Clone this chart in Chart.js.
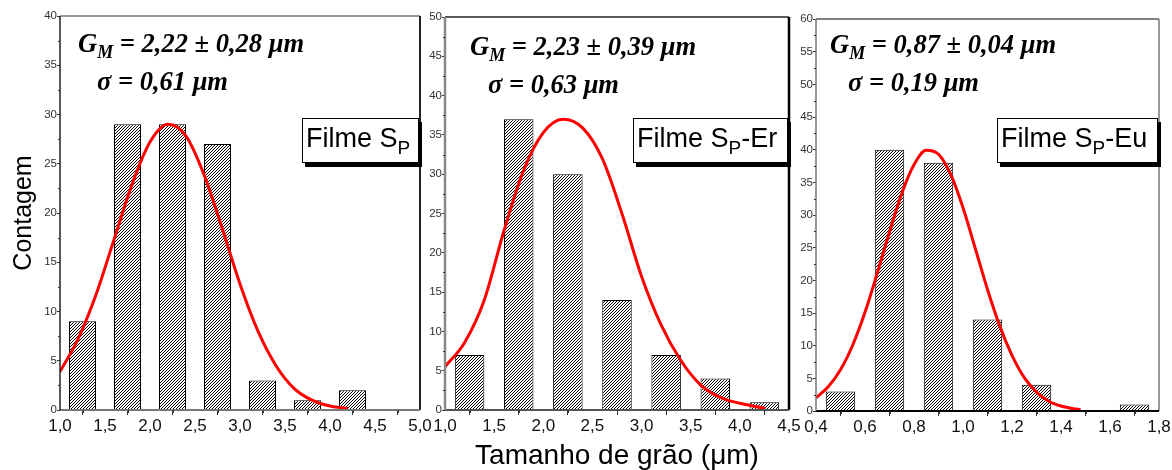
<!DOCTYPE html>
<html><head><meta charset="utf-8">
<script src="https://cdn.jsdelivr.net/npm/chart.js@4.4.1/dist/chart.umd.min.js"></script>
<style>
html,body{margin:0;padding:0;background:#fff;}
#wrap{position:relative;width:1172px;height:470px;overflow:hidden;background:#fff;}
#wrap canvas{position:absolute;left:0;top:0;}
.ann{position:absolute;font:italic bold 26.5px "Liberation Serif","Times New Roman",serif;line-height:28px;white-space:nowrap;color:#000;}
.ann .s{font-size:18px;position:relative;top:6px;}
.leg{position:absolute;box-sizing:border-box;border:1px solid #000;background:#fff;box-shadow:3px 4px 0 #000;font:27px "Liberation Sans",Arial,sans-serif;line-height:38px;padding-left:3px;white-space:nowrap;height:45px;color:#000;}
.leg .s{font-size:19px;position:relative;top:7px;}
</style></head>
<body>
<div id="wrap">
<canvas id="c1" width="1172" height="470"></canvas>
<canvas id="c2" width="1172" height="470"></canvas>
<canvas id="c3" width="1172" height="470"></canvas>
<div class="ann" style="left:78px;top:29px">G<span class="s">M</span> = 2,22 ± 0,28 μm</div>
<div class="ann" style="left:97px;top:67px">σ = 0,61 μm</div>
<div class="ann" style="left:470px;top:32px">G<span class="s">M</span> = 2,23 ± 0,39 μm</div>
<div class="ann" style="left:488px;top:70px">σ = 0,63 μm</div>
<div class="ann" style="left:830px;top:30px">G<span class="s">M</span> = 0,87 ± 0,04 μm</div>
<div class="ann" style="left:848px;top:68px">σ = 0,19 μm</div>
<div class="leg" style="left:302px;top:118px;width:117px">Filme S<span class="s">P</span></div>
<div class="leg" style="left:633px;top:118px;width:155px">Filme S<span class="s">P</span>-Er</div>
<div class="leg" style="left:997px;top:118px;width:161px">Filme S<span class="s">P</span>-Eu</div>
</div>
<script>
// ---- Data ----
const spBinCenters   = [1.25, 1.75, 2.25, 2.75, 3.25, 3.75, 4.25];
const spCounts       = [9, 29, 29, 27, 3, 1, 2];
const spFitX         = [1.0, 1.2, 1.4, 1.6, 1.8, 2.0, 2.2, 2.4, 2.6, 2.8, 3.0, 3.2, 3.4, 3.6, 3.8, 4.0, 4.2];
const spFitY         = [3.9, 7.2, 11.7, 17.3, 22.9, 27.2, 29.0, 27.8, 23.9, 18.5, 12.8, 8.0, 4.5, 2.2, 1.0, 0.4, 0.15];

const erBinCenters   = [1.25, 1.75, 2.25, 2.75, 3.25, 3.75, 4.25];
const erCounts       = [7, 37, 30, 14, 7, 4, 1];
const erFitX         = [1.0, 1.2, 1.4, 1.6, 1.8, 2.0, 2.2, 2.4, 2.6, 2.8, 3.0, 3.2, 3.4, 3.6, 3.8, 4.0, 4.26];
const erFitY         = [5.5, 8.6, 14.0, 22.8, 30.5, 35.3, 37.0, 35.9, 32.0, 25.0, 17.0, 10.8, 6.3, 3.2, 1.6, 0.85, 0.2];

const euBinCenters   = [0.5, 0.7, 0.9, 1.1, 1.3, 1.5, 1.7];
const euCounts       = [3, 40, 38, 14, 4, 0, 1];
const euFitX         = [0.40, 0.45, 0.50, 0.55, 0.60, 0.65, 0.70, 0.75, 0.80, 0.85, 0.90, 0.95, 1.00, 1.05, 1.10, 1.15, 1.20, 1.25, 1.30, 1.35, 1.40, 1.45, 1.48];
const euFitY         = [2.0, 3.7, 6.3, 10.1, 15.1, 21.1, 27.4, 33.3, 37.7, 39.9, 39.3, 36.2, 31.1, 24.9, 18.6, 13.0, 8.5, 5.1, 2.9, 1.5, 0.76, 0.35, 0.21];

const xRanges   = [[1.0, 5.0, 0.5], [1.0, 4.5, 0.5], [0.4, 1.8, 0.2]];
const yRanges   = [[0, 40, 5], [0, 50, 5], [0, 60, 5]];
const yAxisTitle = 'Contagem';
const xAxisTitle = 'Tamanho de grão (μm)';

// ---- helpers ----
function hatchPattern(ctx){
  const n = 3;
  const c = document.createElement('canvas'); c.width = n; c.height = n;
  const g = c.getContext('2d');
  g.fillStyle = '#fff'; g.fillRect(0,0,n,n);
  g.strokeStyle = '#000'; g.lineWidth = 1;
  g.beginPath();
  g.moveTo(0,n); g.lineTo(n,0);
  g.moveTo(-n,n); g.lineTo(n,-n);
  g.moveTo(0,2*n); g.lineTo(2*n,0);
  g.stroke();
  return ctx.createPattern(c, 'repeat');
}
const fmt = v => Number(v).toFixed(1).replace('.', ',');

const framePlugin = {
  id: 'frame',
  afterDraw(chart, args, o){
    const a = chart.chartArea, ctx = chart.ctx;
    ctx.save();
    const side = (c, w, x1, y1, x2, y2) => { ctx.strokeStyle = c; ctx.lineWidth = w; ctx.beginPath(); ctx.moveTo(x1,y1); ctx.lineTo(x2,y2); ctx.stroke(); };
    side(o.top[0], o.top[1], a.left, a.top, a.right, a.top);
    side(o.right[0], o.right[1], a.right, a.top, a.right, a.bottom);
    side(o.bottom[0], o.bottom[1], a.left, a.bottom, a.right, a.bottom);
    side(o.left[0], o.left[1], a.left, a.top, a.left, a.bottom);
    ctx.restore();
  }
};
const minorPlugin = {
  id: 'minorTicks',
  afterDraw(chart){
    const ctx = chart.ctx, xs = chart.scales.x, ys = chart.scales.y;
    ctx.save(); ctx.strokeStyle = '#333'; ctx.lineWidth = 1;
    const yt = ys.ticks;
    for (let i = 0; i < yt.length - 1; i++){
      const p = Math.round(ys.getPixelForValue((yt[i].value + yt[i+1].value)/2)) + 0.5;
      ctx.beginPath(); ctx.moveTo(ys.right - 2, p); ctx.lineTo(ys.right, p); ctx.stroke();
    }
    const xt = xs.ticks;
    for (let i = 0; i < xt.length - 1; i++){
      const p = Math.round(xs.getPixelForValue((xt[i].value + xt[i+1].value)/2)) + 0.5;
      ctx.beginPath(); ctx.moveTo(p, xs.top); ctx.lineTo(p, xs.top + 3); ctx.stroke();
    }
    ctx.restore();
  }
};

function makeChart(id, centers, counts, fitX, fitY, xr, yr, area, frame, showYTitle, showXTitle){
  const ctx = document.getElementById(id).getContext('2d');
  return new Chart(ctx, {
    type: 'bar',
    data: {
      datasets: [
        {
          type: 'line',
          data: fitX.map((x, i) => ({x: x, y: fitY[i]})),
          borderColor: '#ff0000', borderWidth: 3, pointRadius: 0,
          cubicInterpolationMode: 'monotone', fill: false, order: 0
        },
        {
          type: 'bar',
          data: centers.map((x, i) => ({x: x, y: counts[i]})),
          backgroundColor: hatchPattern(ctx), borderColor: '#000', borderWidth: 1,
          barPercentage: 0.6, categoryPercentage: 1.0, order: 1
        }
      ]
    },
    options: {
      responsive: false, animation: false,
      layout: { padding: { left: area.l - 60, top: area.t, right: 1172 - area.r, bottom: 0 } },
      plugins: { legend: {display: false}, tooltip: {enabled: false}, frame: frame },
      scales: {
        x: {
          type: 'linear', offset: false, min: xr[0], max: xr[1],
          ticks: { stepSize: xr[2], autoSkip: false, maxRotation: 0, padding: 1, color: '#111',
                   font: { family: '"Liberation Sans", Arial, sans-serif', size: 17 }, callback: v => fmt(v) },
          grid: { drawOnChartArea: false, drawTicks: true, tickLength: 5, color: '#333' },
          border: { display: false },
          title: { display: showXTitle, text: xAxisTitle, color: '#000', padding: {top: 0, bottom: 0},
                   font: { family: '"Liberation Sans", Arial, sans-serif', size: 28, lineHeight: 1 } },
          afterFit: s => { s.height = 470 - area.b; }
        },
        y: {
          min: yr[0], max: yr[1],
          ticks: { stepSize: yr[2], padding: 0, color: '#333',
                   font: { family: '"Liberation Sans", Arial, sans-serif', size: 11.5 } },
          grid: { drawOnChartArea: false, drawTicks: true, tickLength: 3, color: '#333' },
          border: { display: false },
          title: { display: showYTitle, text: yAxisTitle, color: '#000', padding: {top: 12, bottom: 0},
                   font: { family: '"Liberation Sans", Arial, sans-serif', size: 25, lineHeight: 1 } },
          afterFit: s => { s.width = 60; }
        }
      }
    },
    plugins: [framePlugin, minorPlugin]
  });
}

makeChart('c1', spBinCenters, spCounts, spFitX, spFitY, xRanges[0], yRanges[0],
  {l: 60, t: 16, r: 420, b: 410},
  {top: ['#777', 1.5], right: ['#222', 2], bottom: ['#777', 2], left: ['#222', 1.5]}, true, false);
makeChart('c2', erBinCenters, erCounts, erFitX, erFitY, xRanges[1], yRanges[1],
  {l: 445, t: 17, r: 789, b: 410},
  {top: ['#222', 1.5], right: ['#000', 2.5], bottom: ['#555', 2], left: ['#888', 2.5]}, false, true);
makeChart('c3', euBinCenters, euCounts, euFitX, euFitY, xRanges[2], yRanges[2],
  {l: 816, t: 19, r: 1159, b: 411},
  {top: ['#555', 1.5], right: ['#777', 1.5], bottom: ['#000', 2], left: ['#777', 1.5]}, false, false);
</script>
</body></html>
